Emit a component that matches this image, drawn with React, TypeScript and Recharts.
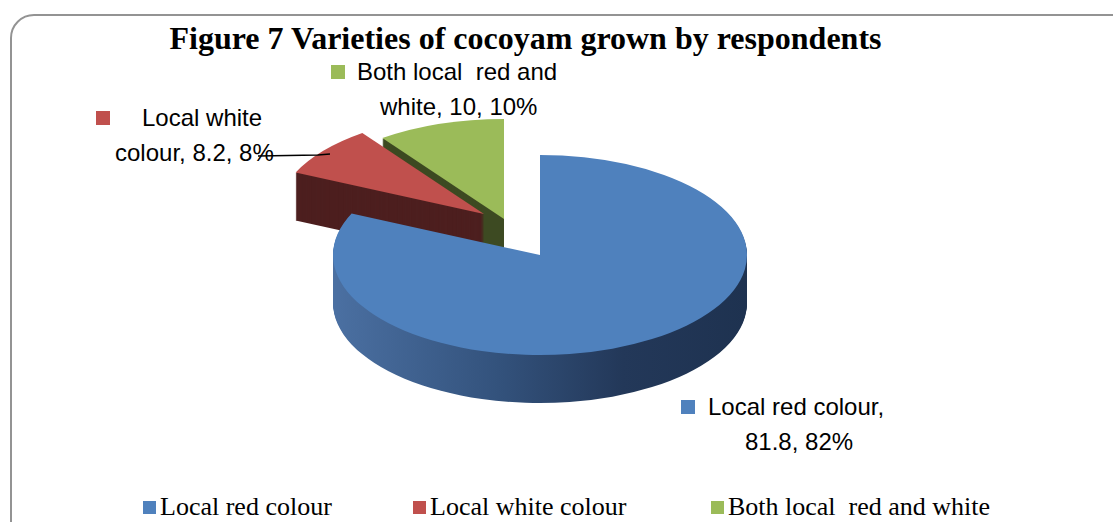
import React from "react";
import { PieChart, Pie, Cell } from "recharts";

// chart data
const categories = ["Local red colour", "Local white colour", "Both local  red and white"];
const values = [81.8, 8.2, 10];
const labelBreaks = [17, 11, 19]; // where the data label wraps onto a second line

const topColors = ["#4f81bd", "#c0504d", "#9bbb59"];
const sideColors = ["url(#blueSide)", "#4d1f1f", "#3d4a22"];

// 3d look: squash the pie and stack copies for the side
const K = 100 / 207;
const R = 207;
const DEPTH = 48;
const W = 1113;
const H = 522;
const centers = [
  { x: 540, y: 255 },
  { x: 484, y: 214 },
  { x: 504, y: 219 },
];
const drawOrder = [2, 1, 0];

const total = values.reduce((a, b) => a + b, 0);
const pieData = categories.map((name, i) => ({ name, value: values[i] }));

const labelPos = [
  { sq: [681, 400], l1: 708, l2: 745, y1: 393, y2: 428 },
  { sq: [96, 111], l1: 142, l2: 115, y1: 104, y2: 139 },
  { sq: [331, 65], l1: 357, l2: 380, y1: 58, y2: 93 },
];

const legendX = [143, 413, 711];

function layers() {
  const out: React.ReactNode[] = [];
  drawOrder.forEach((s) => {
    const c = centers[s];
    for (let d = DEPTH; d >= 1; d--) {
      out.push(
        <Pie
          key={`side-${s}-${d}`}
          data={pieData}
          dataKey="value"
          cx={c.x}
          cy={(c.y + d) / K}
          outerRadius={R}
          startAngle={90}
          endAngle={-270}
          stroke="none"
          isAnimationActive={false}
        >
          {pieData.map((_, i) => (
            <Cell key={i} fill={i === s ? sideColors[s] : "none"} />
          ))}
        </Pie>
      );
    }
    out.push(
      <Pie
        key={`top-${s}`}
        data={pieData}
        dataKey="value"
        cx={c.x}
        cy={c.y / K}
        outerRadius={R}
        startAngle={90}
        endAngle={-270}
        stroke="none"
        isAnimationActive={false}
      >
        {pieData.map((_, i) => (
          <Cell key={i} fill={i === s ? topColors[s] : "none"} />
        ))}
      </Pie>
    );
  });
  return out;
}

export default function App() {
  const sans = "'Liberation Sans', Arial, sans-serif";
  const serif = "'Liberation Serif', 'Times New Roman', serif";
  return (
    <div style={{ position: "absolute", left: 0, top: 0, width: W, height: H, overflow: "hidden", background: "#fff" }}>
      <div
        style={{
          position: "absolute",
          left: 10,
          top: 14,
          width: 1130,
          height: 540,
          border: "2px solid #939393",
          borderRadius: 24,
          boxSizing: "border-box",
        }}
      />
      <div style={{ position: "absolute", left: 0, top: 0, width: W, height: H / K, transform: `scaleY(${K})`, transformOrigin: "0 0" }}>
        <PieChart width={W} height={Math.ceil(H / K)} margin={{ top: 0, right: 0, bottom: 0, left: 0 }}>
          <defs>
            <linearGradient id="blueSide" x1="0" y1="0" x2="1" y2="0">
              <stop offset="0%" stopColor="#4b70a2" />
              <stop offset="40%" stopColor="#33527c" />
              <stop offset="70%" stopColor="#233859" />
              <stop offset="100%" stopColor="#1e3250" />
            </linearGradient>
          </defs>
          {layers()}
        </PieChart>
      </div>

      <div
        style={{
          position: "absolute",
          left: 0,
          width: 1051,
          top: 20,
          textAlign: "center",
          fontFamily: serif,
          fontWeight: "bold",
          fontSize: 32,
          lineHeight: "36px",
          color: "#000",
        }}
      >
        Figure 7 Varieties of cocoyam grown by respondents
      </div>

      {categories.map((cat, i) => {
        const full = `${cat}, ${values[i]}, ${Math.round((values[i] / total) * 100)}%`;
        const p = labelPos[i];
        const line1 = full.slice(0, labelBreaks[i]);
        const line2 = full.slice(labelBreaks[i]).trim();
        return (
          <React.Fragment key={cat}>
            <div style={{ position: "absolute", left: p.sq[0], top: p.sq[1], width: 14, height: 14, background: topColors[i] }} />
            <div style={{ position: "absolute", left: p.l1, top: p.y1, fontFamily: sans, fontSize: 24, lineHeight: "28px", whiteSpace: "pre", color: "#000" }}>
              {line1}
            </div>
            <div style={{ position: "absolute", left: p.l2, top: p.y2, fontFamily: sans, fontSize: 24, lineHeight: "28px", whiteSpace: "pre", color: "#000" }}>
              {line2}
            </div>
          </React.Fragment>
        );
      })}

      <svg style={{ position: "absolute", left: 0, top: 0 }} width={W} height={H}>
        <polyline points="258,156 318,155 330,154" fill="none" stroke="#000" strokeWidth={1.5} />
      </svg>

      {categories.map((cat, i) => (
        <div key={`lg-${cat}`} style={{ position: "absolute", left: legendX[i], top: 492, display: "flex", alignItems: "center", fontFamily: serif, fontSize: 26, lineHeight: "30px", whiteSpace: "pre", color: "#000" }}>
          <div style={{ width: 13, height: 13, background: topColors[i], marginRight: 4 }} />
          <span>{cat}</span>
        </div>
      ))}
    </div>
  );
}
